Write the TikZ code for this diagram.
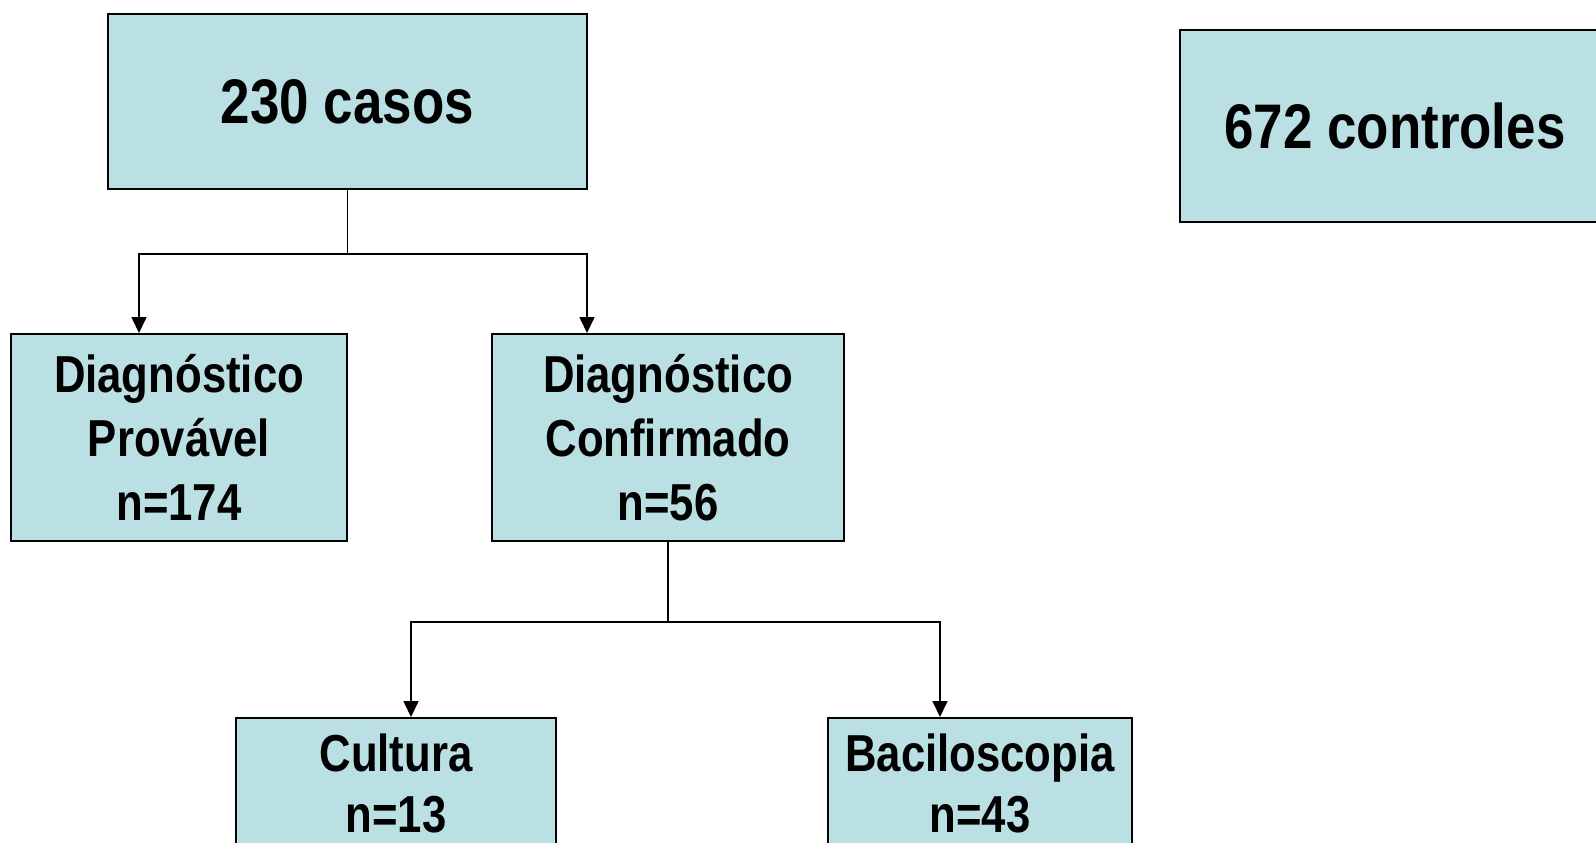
\documentclass[tikz,border=0pt]{standalone}
\usepackage{fontspec}
\setmainfont[FakeStretch=0.84]{Liberation Sans}
\usepackage{xcolor}
\usepackage{tikz}
\usetikzlibrary{positioning, arrows.meta, calc}
\definecolor{caixaazul}{RGB}{187,224,227}

\begin{document}
\begin{tikzpicture}[x=0.5pt, y=-0.5pt,
    caixa/.style={draw=black, line width=1pt, fill=caixaazul, align=center, inner sep=0pt},
    grande/.style={font=\bfseries\fontsize{31.5}{36}\selectfont},
    media/.style={font=\bfseries\fontsize{26}{32}\selectfont},
    pequena/.style={font=\bfseries\fontsize{26}{30.5}\selectfont},
    ligacao/.style={line width=0.8pt},
    seta/.style={line width=0.8pt, -{Triangle[length=8pt, width=7.5pt]}}]
  \clip (0,0) rectangle (1596,842);
  % casos e controles
  \node[caixa, grande, minimum width=239.5pt, minimum height=87.5pt] (casos) at (347.5,101.5) {230 casos};
  \node[caixa, grande, minimum width=215pt, minimum height=96pt] (controles) at (1395,126) {672 controles};
  % diagnostico
  \node[caixa, media, minimum width=168pt, minimum height=103.5pt] (provavel) at (179,437.5) {Diagnóstico\\Provável\\n=174};
  \node[caixa, media, minimum width=176pt, minimum height=103.5pt] (confirmado) at (668,437.5) {Diagnóstico\\Confirmado\\n=56};
  % exames
  \node[caixa, pequena, minimum width=160pt, minimum height=65.5pt] (cultura) at (396,783.5) {Cultura\\n=13};
  \node[caixa, pequena, minimum width=152pt, minimum height=65.5pt] (bacilo) at (980,783.5) {Baciloscopia\\n=43};
  % ligacoes
  \draw[ligacao] (casos.south) -- ++(0,64) coordinate (r1);
  \draw[seta] (r1) -| (provavel.north -| 139,0);
  \draw[seta] (r1) -| (confirmado.north -| 587,0);
  \draw[ligacao] (confirmado.south) -- ++(0,80) coordinate (r2);
  \draw[seta] (r2) -| (cultura.north -| 411,0);
  \draw[seta] (r2) -| (bacilo.north -| 940,0);
\end{tikzpicture}
\end{document}
